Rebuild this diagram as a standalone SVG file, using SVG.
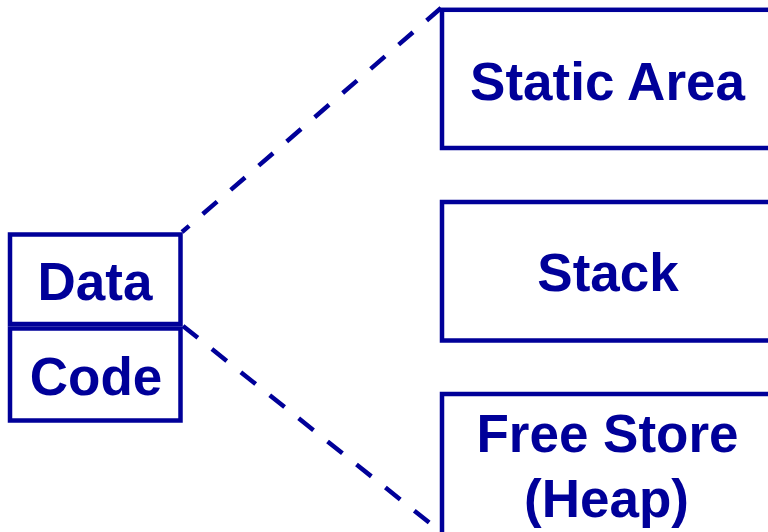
<svg xmlns="http://www.w3.org/2000/svg" width="768" height="532" viewBox="0 0 768 532">
<style>
.box{fill:none;stroke:#000099;stroke-width:4.5}
.lbl{font-family:"Liberation Sans",Arial,sans-serif;font-weight:bold;font-size:53px;fill:#000099;text-anchor:middle}
.conn{fill:none;stroke:#000099;stroke-width:4.5;stroke-dasharray:19 18}
</style>
<rect width="768" height="532" fill="#ffffff"/>
<g id="connectors">
<line class="conn" x1="441" y1="8" x2="182" y2="232"/>
<line class="conn" x1="183" y1="326" x2="441" y2="532"/>
</g>
<g id="data">
<rect class="box" x="10" y="234.5" width="170.5" height="89.5"/>
<text class="lbl" x="95" y="300">Data</text>
</g>
<g id="code">
<rect class="box" x="10" y="328.5" width="170.5" height="92"/>
<text class="lbl" x="96" y="395">Code</text>
</g>
<g id="static">
<rect class="box" x="442" y="9.8" width="340" height="138.2"/>
<text class="lbl" x="607.5" y="100">Static Area</text>
</g>
<g id="stack">
<rect class="box" x="442" y="202" width="340" height="138.5"/>
<text class="lbl" x="608" y="291">Stack</text>
</g>
<g id="freestore">
<rect class="box" x="442" y="394" width="340" height="160"/>
<text class="lbl" x="607.5" y="452">Free Store</text>
<text class="lbl" x="606.5" y="517">(Heap)</text>
</g>
</svg>
